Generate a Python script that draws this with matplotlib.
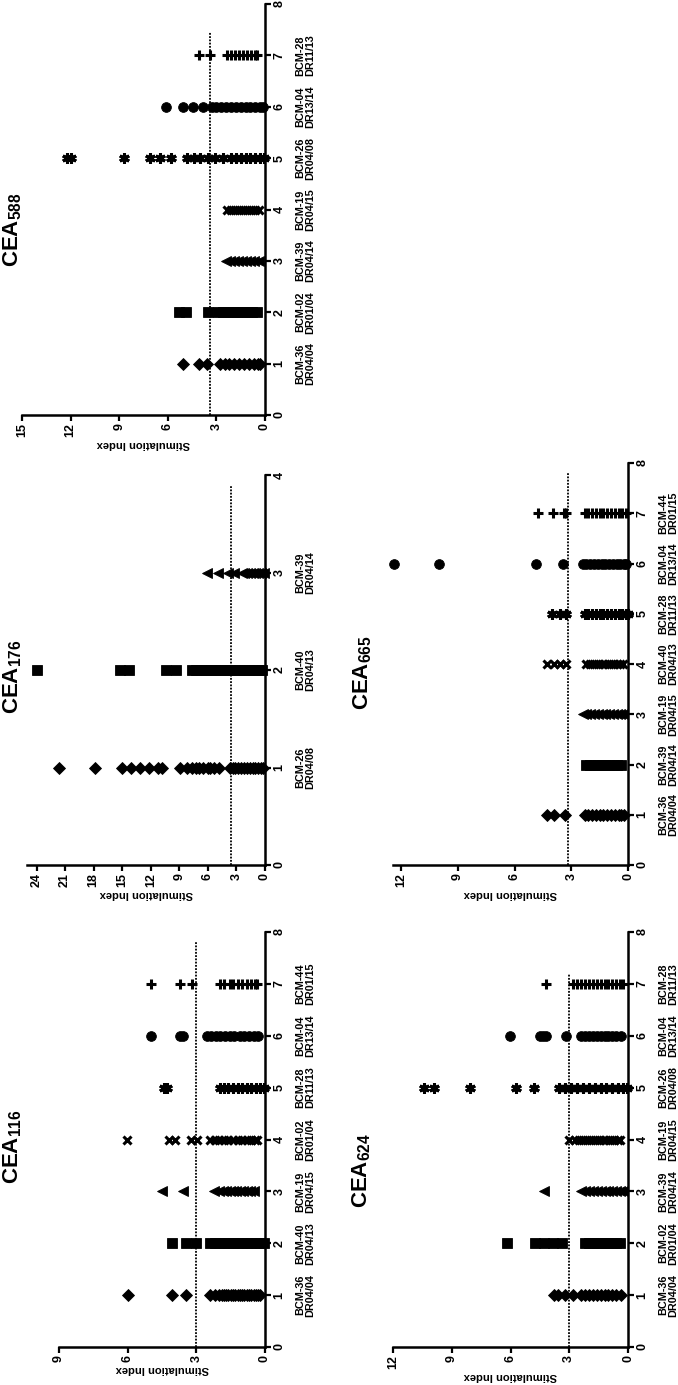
"""Stimulation index scatter panels for five CEA peptides (rotated layout)."""

import matplotlib
matplotlib.use("Agg")
import matplotlib.pyplot as plt

plt.rcParams["font.family"] = ["Liberation Sans", "DejaVu Sans"]
plt.rcParams["font.weight"] = "bold"
plt.rcParams["mathtext.fontset"] = "custom"
plt.rcParams["mathtext.rm"] = "Liberation Sans:bold"
plt.rcParams["mathtext.bf"] = "Liberation Sans:bold"

# ---- data: stimulation index per donor column ----
labels_116 = ["BCM-36\nDR04/04", "BCM-40\nDR04/13", "BCM-19\nDR04/15", "BCM-02\nDR01/04",
              "BCM-28\nDR11/13", "BCM-04\nDR13/14", "BCM-44\nDR01/15"]
c116_1 = [6.0, 4.05, 3.45, 2.4, 2.2, 2.0, 1.9, 1.8, 1.7, 1.6, 1.5, 1.4, 1.3, 1.2, 1.1, 1.0, 0.9, 0.8, 0.7, 0.6, 0.5, 0.4, 0.3, 0.2]
c116_2 = [4.05, 3.45, 3.0, 2.4, 2.2, 2.0, 1.8, 1.6, 1.4, 1.2, 1.0, 0.8, 0.6, 0.4, 0.2, 0.05]
c116_3 = [4.5, 3.6, 2.25, 2.0, 1.85, 1.7, 1.55, 1.4, 1.25, 1.1, 0.95, 0.8, 0.65, 0.5]
c116_4 = [6.05, 4.2, 3.95, 3.25, 2.95, 2.4, 2.2, 2.0, 1.8, 1.6, 1.4, 1.2, 1.0, 0.8, 0.6, 0.45, 0.35]
c116_5 = [4.4, 4.3, 1.95, 1.8, 1.6, 1.4, 1.2, 1.0, 0.8, 0.6, 0.4, 0.2, 0.05]
c116_6 = [5.0, 3.7, 3.6, 2.55, 2.35, 2.15, 1.95, 1.75, 1.55, 1.35, 1.1, 0.9, 0.7, 0.5, 0.3]
c116_7 = [5.0, 3.7, 3.2, 1.95, 1.8, 1.55, 1.4, 1.2, 1.0, 0.8, 0.6, 0.45, 0.35]

labels_176 = ["BCM-26\nDR04/08", "BCM-40\nDR04/13", "BCM-39\nDR04/14"]
c176_1 = [21.6, 17.9, 15.0, 14.1, 13.1, 12.2, 11.2, 10.8, 8.9, 8.2, 7.7, 7.3, 6.9, 6.5, 6.0, 5.8, 5.4, 4.8,
          3.7, 3.4, 3.1, 2.8, 2.5, 2.2, 1.9, 1.6, 1.3, 1.0, 0.7, 0.4, 0.2]
c176_2 = [24.0, 15.2, 14.3, 10.4, 9.4, 7.7, 7.2, 6.7, 6.2, 5.7, 5.2, 4.7, 4.2, 3.7, 3.2, 2.7, 2.2, 1.7, 1.2, 0.7, 0.3]
c176_3 = [6.1, 4.9, 3.85, 3.3, 2.45, 2.2, 1.9, 1.6, 1.3, 1.0, 0.7, 0.4, 0.1]

labels_588 = ["BCM-36\nDR04/04", "BCM-02\nDR01/04", "BCM-39\nDR04/14", "BCM-19\nDR04/15",
              "BCM-26\nDR04/08", "BCM-04\nDR13/14", "BCM-28\nDR11/13"]
c588_1 = [5.07, 4.07, 3.55, 2.77, 2.5, 2.2, 1.9, 1.6, 1.3, 1.0, 0.7, 0.45, 0.3]
c588_2 = [5.3, 4.9, 3.5, 2.9, 2.6, 2.3, 2.0, 1.7, 1.4, 1.1, 0.8, 0.5]
c588_3 = [2.4, 2.15, 1.9, 1.65, 1.4, 1.15, 0.9, 0.65, 0.4]
c588_4 = [2.35, 2.1, 1.85, 1.6, 1.35, 1.1, 0.85, 0.6, 0.4]
c588_5 = [12.2, 12.0, 8.7, 7.1, 6.5, 5.8, 4.8, 4.4, 4.0, 3.5, 3.1, 2.6, 2.1, 1.8, 1.5, 1.2, 0.9, 0.6, 0.3, 0.05]
c588_6 = [6.1, 5.05, 4.45, 3.8, 3.3, 3.0, 2.7, 2.4, 2.1, 1.8, 1.5, 1.2, 0.9, 0.6, 0.3, 0.1]
c588_7 = [4.07, 3.4, 2.36, 2.1, 1.85, 1.6, 1.35, 1.1, 0.85, 0.6, 0.5]

labels_624 = ["BCM-36\nDR04/04", "BCM-02\nDR01/04", "BCM-39\nDR04/14", "BCM-19\nDR04/15",
              "BCM-26\nDR04/08", "BCM-04\nDR13/14", "BCM-28\nDR11/13"]
c624_1 = [3.8, 3.6, 3.2, 2.8, 2.4, 2.2, 2.0, 1.8, 1.6, 1.4, 1.2, 1.0, 0.8, 0.6, 0.35]
c624_2 = [6.2, 4.75, 4.3, 3.85, 3.35, 2.2, 2.0, 1.8, 1.6, 1.4, 1.2, 1.0, 0.8, 0.6, 0.4]
c624_3 = [4.3, 2.4, 2.2, 2.0, 1.8, 1.6, 1.4, 1.2, 1.0, 0.8, 0.6, 0.4, 0.25]
c624_4 = [3.0, 2.7, 2.5, 2.3, 2.1, 1.9, 1.7, 1.5, 1.3, 1.1, 0.9, 0.7, 0.5, 0.4]
c624_5 = [10.4, 9.9, 8.05, 5.7, 4.8, 3.5, 3.2, 2.9, 2.6, 2.3, 2.0, 1.7, 1.4, 1.1, 0.8, 0.5, 0.25, 0.05]
c624_6 = [6.05, 4.5, 4.35, 4.2, 3.15, 2.4, 2.2, 2.0, 1.8, 1.6, 1.4, 1.2, 1.0, 0.8, 0.6, 0.35]
c624_7 = [4.2, 2.8, 2.6, 2.4, 2.2, 2.0, 1.8, 1.6, 1.4, 1.2, 1.0, 0.8, 0.6, 0.4, 0.25]

labels_665 = ["BCM-36\nDR04/04", "BCM-39\nDR04/14", "BCM-19\nDR04/15", "BCM-40\nDR04/13",
              "BCM-28\nDR11/13", "BCM-04\nDR13/14", "BCM-44\nDR01/15"]
c665_1 = [4.3, 3.9, 3.35, 2.3, 2.1, 1.9, 1.7, 1.5, 1.3, 1.1, 0.9, 0.7, 0.5, 0.35, 0.2]
c665_2 = [2.2, 2.0, 1.8, 1.6, 1.4, 1.2, 1.0, 0.8, 0.6, 0.35]
c665_3 = [2.4, 2.2, 2.0, 1.8, 1.6, 1.4, 1.2, 1.0, 0.8, 0.6, 0.4, 0.25]
c665_4 = [4.3, 3.9, 3.6, 3.3, 2.2, 2.0, 1.8, 1.6, 1.4, 1.2, 1.0, 0.8, 0.6, 0.4, 0.25]
c665_5 = [4.0, 3.6, 3.3, 2.3, 2.1, 1.9, 1.7, 1.5, 1.3, 1.1, 0.9, 0.7, 0.5, 0.3, 0.1, 0.0]
c665_6 = [12.4, 10.0, 4.9, 3.45, 2.4, 2.2, 2.0, 1.8, 1.6, 1.4, 1.2, 1.0, 0.8, 0.6, 0.4, 0.2, 0.1]
c665_7 = [4.75, 3.97, 3.4, 3.3, 2.3, 2.1, 1.9, 1.7, 1.5, 1.3, 1.1, 0.9, 0.7, 0.5, 0.3, 0.1]

# positive-response cut-off (dotted line) and where it stops along the donor axis
thresholds = {"116": 3.0, "176": 3.6, "588": 3.4, "624": 3.0, "665": 3.2}
threshold_ends = {"116": 7.8, "176": 3.9, "588": 7.45, "624": 7.2, "665": 7.8}

# ---- layout (figure is the landscape original turned a quarter turn) ----
W, H = 678, 1385
MARKERS = ["D", "s", "<", "x", (6, 2, 0), "o", "+"]
SIZES = [6.5, 6.5, 7.0, 6.0, 7.5, 7.0, 7.5]

panels = [
    # key, columns, labels, stim max, cat max, box (left, top, right, bottom) px, title centre px
    ("588", [c588_1, c588_2, c588_3, c588_4, c588_5, c588_6, c588_7], labels_588, 15, 8,
     (22, 4, 265, 415), (13, 230)),
    ("176", [c176_1, c176_2, c176_3], labels_176, 25, 4,
     (27, 475, 265, 865), (13, 677)),
    ("116", [c116_1, c116_2, c116_3, c116_4, c116_5, c116_6, c116_7], labels_116, 9, 8,
     (59, 932, 265, 1347), (13, 1147)),
    ("665", [c665_1, c665_2, c665_3, c665_4, c665_5, c665_6, c665_7], labels_665, 12.45, 8,
     (393, 463, 628, 865), (363, 673)),
    ("624", [c624_1, c624_2, c624_3, c624_4, c624_5, c624_6, c624_7], labels_624, 12, 8,
     (393, 932, 628, 1347), (362, 1170)),
]

fig = plt.figure(figsize=(W / 100, H / 100), dpi=100)

for key, columns, labels, smax, cmax, box, title_xy in panels:
    left, top, right, bottom = box
    ax = fig.add_axes([left / W, 1 - bottom / H, (right - left) / W, (bottom - top) / H])
    ax.set_xlim(smax, 0)
    ax.set_ylim(0, cmax)

    for i, vals in enumerate(columns):
        ax.plot(vals, [i + 1] * len(vals), linestyle="none", marker=MARKERS[i],
                markersize=SIZES[i], color="black",
                markeredgewidth=2.2 if i in (3, 4, 6) else 0.6, clip_on=False)

    ax.plot([thresholds[key]] * 2, [0, threshold_ends[key]], color="black",
            linestyle=(0, (1, 0.8)), linewidth=1.3)

    for side in ("top", "left"):
        ax.spines[side].set_visible(False)
    for side in ("bottom", "right"):
        ax.spines[side].set_linewidth(1.8)

    ax.set_xticks(range(0, int(smax) + 1, 3))
    ax.set_yticks(range(0, cmax + 1))
    ax.yaxis.tick_right()
    ax.tick_params(axis="both", direction="out", length=4, width=1.6, labelsize=9, pad=2)
    ax.tick_params(axis="x", labelrotation=90)
    ax.tick_params(axis="y", labelrotation=90)
    for t in ax.get_yticklabels():
        t.set_verticalalignment("center")
    ax.set_xlabel("Stimulation Index", rotation=180, fontsize=8, fontweight="bold", labelpad=1)

    for i, lab in enumerate(labels):
        ax.annotate(lab, xy=(0, i + 1), xycoords="data", xytext=(29, 0),
                    textcoords="offset points", rotation=90, ha="center", va="center",
                    fontsize=7.8, fontweight="bold", linespacing=1.0, annotation_clip=False)

    fig.text(title_xy[0] / W, 1 - title_xy[1] / H, r"$\mathbf{CEA_{%s}}$" % key,
             rotation=90, ha="center", va="center", fontsize=16)

fig.savefig("out.png", dpi=100)
